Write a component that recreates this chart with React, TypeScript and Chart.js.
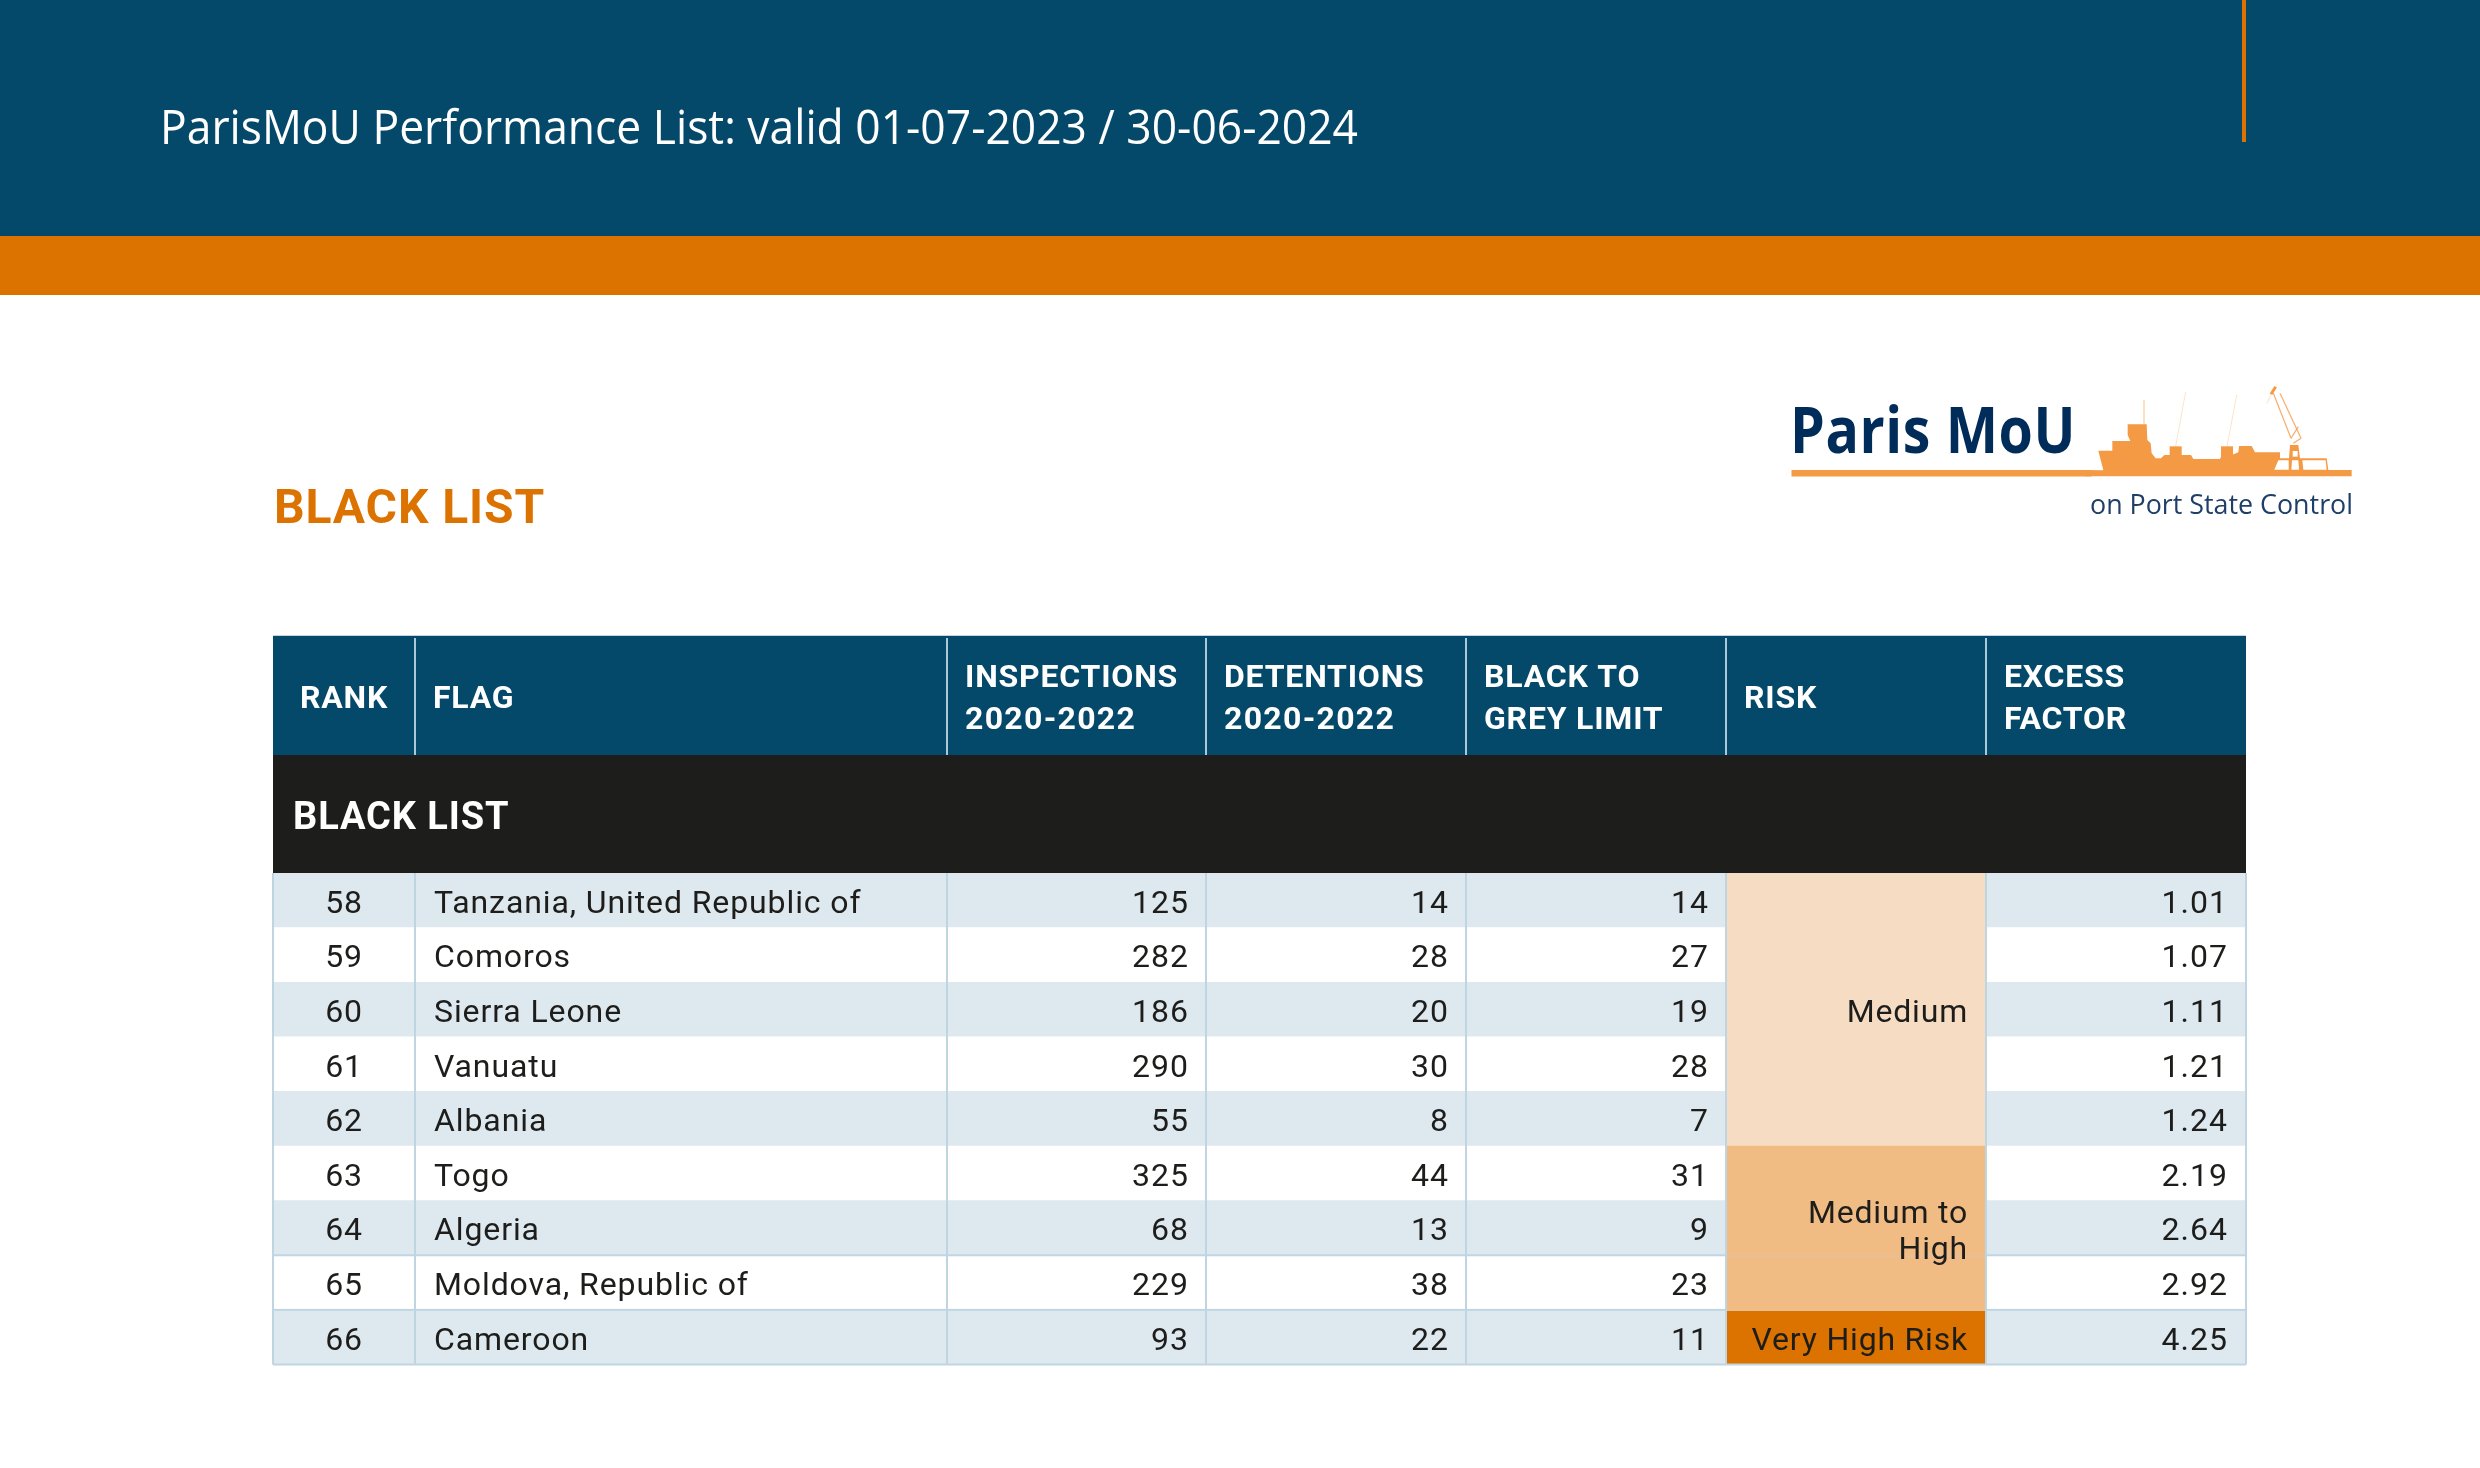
import React, { useEffect, useRef } from 'react';
import { Chart, registerables } from 'chart.js';

Chart.register(...registerables);

const ranks = ['58', '59', '60', '61', '62', '63', '64', '65', '66'];
const flags = [
  'Tanzania, United Republic of', 'Comoros', 'Sierra Leone', 'Vanuatu', 'Albania',
  'Togo', 'Algeria', 'Moldova, Republic of', 'Cameroon',
];
const inspections = ['125', '282', '186', '290', '55', '325', '68', '229', '93'];
const detentions = ['14', '28', '20', '30', '8', '44', '13', '38', '22'];
const blackToGrey = ['14', '27', '19', '28', '7', '31', '9', '23', '11'];
const excessFactor = ['1.01', '1.07', '1.11', '1.21', '1.24', '2.19', '2.64', '2.92', '4.25'];
const riskLevel = [0, 0, 0, 0, 0, 1, 1, 1, 2];
const riskLabels = [['Medium'], ['Medium to', 'High'], ['Very High Risk']];
const headers = [
  ['RANK'], ['FLAG'], ['INSPECTIONS', '2020-2022'], ['DETENTIONS', '2020-2022'],
  ['BLACK TO', 'GREY LIMIT'], ['RISK'], ['EXCESS', 'FACTOR'],
];

// column edges, in table units (x scale runs 0..tableWidth)
const colEdges = [0, 142, 674, 933, 1193, 1453, 1713, 1973];
const tableWidth = colEdges[colEdges.length - 1];

const BLUE = '#05496A';
const ORANGE = '#DC7300';
const INK = '#1D1D1B';
const STRIPE = '#DEE8EF';
const RULE = '#BFD6E2';
const NAVY = '#002C5A';
const LOGO = '#F49A45';
const riskColors = ['#F6DCC2', '#F1BB84', ORANGE];

const TABLE_LEFT = 273;
const TABLE_TOP = 635;
const HEADER_BOTTOM = 755;
const ROWS_TOP = 873;
const ROWS_BOTTOM = 1364.5;

const DIN = 'Roboto, sans-serif';
const MYRIAD = '"Open Sans", sans-serif';

function put(ctx: CanvasRenderingContext2D, str: string, x: number, y: number, font: string, color: string, align: CanvasTextAlign = 'left', spacing = '0px', maxW?: number) {
  ctx.font = font;
  ctx.fillStyle = color;
  ctx.textAlign = align;
  ctx.textBaseline = 'alphabetic';
  (ctx as any).letterSpacing = spacing;
  if (maxW) ctx.fillText(str, x, y, maxW);
  else ctx.fillText(str, x, y);
  (ctx as any).letterSpacing = '0px';
}

const sx = (v: number) => 2085 + v / 3;
const sy = (v: number) => 375 + v / 3;
const hull = [[55, 286], [40, 227], [82, 227], [82, 198], [136, 198], [128, 180], [128, 148], [185, 148], [187, 195], [197, 205], [200, 235], [212, 250], [228, 250], [238, 240], [318, 240], [325, 252], [405, 252], [410, 240], [440, 240], [460, 232], [462, 213], [500, 213], [510, 232], [585, 232], [585, 250], [612, 250], [615, 210], [640, 210], [645, 250], [725, 250], [730, 285], [800, 285], [800, 304], [0, 304], [0, 285]];
const holes = [
  [[580, 256], [611, 256], [611, 284], [568, 284]],
  [[621, 256], [640, 256], [642, 284], [619, 284]],
  [[652, 256], [722, 256], [725, 284], [655, 284]],
  [[623, 228], [638, 228], [638, 245], [623, 245]],
];
const craneLines = [
  [[177, 75], [177, 150], 1, 0.6], [[302, 50], [270, 225], 0.7, 0.4], [[455, 60], [424, 225], 0.7, 0.4],
  [[565, 55], [618, 190], 1.2, 0.8], [[585, 55], [648, 190], 1.2, 0.8], [[618, 190], [640, 155], 1.2, 0.8], [[648, 190], [625, 205], 1.2, 0.8],
  [[572, 35], [558, 58], 3, 1], [[558, 58], [546, 85], 0.6, 0.5],
] as any[];

function drawLogo(ctx: CanvasRenderingContext2D) {
  ctx.save();
  ctx.fillStyle = LOGO;
  ctx.fillRect(1791.5, 470, 300, 6.5);
  ctx.beginPath();
  hull.forEach(([a, b], i) => (i ? ctx.lineTo(sx(a), sy(b)) : ctx.moveTo(sx(a), sy(b))));
  ctx.closePath();
  ctx.fill();
  ctx.fillStyle = '#fff';
  holes.forEach((h) => {
    ctx.beginPath();
    h.forEach(([a, b], i) => (i ? ctx.lineTo(sx(a), sy(b)) : ctx.moveTo(sx(a), sy(b))));
    ctx.closePath();
    ctx.fill();
  });
  ctx.strokeStyle = LOGO;
  craneLines.forEach(([p, q, w, alpha]) => {
    ctx.lineWidth = w;
    ctx.globalAlpha = alpha;
    ctx.beginPath();
    ctx.moveTo(sx(p[0]), sy(p[1]));
    ctx.lineTo(sx(q[0]), sy(q[1]));
    ctx.stroke();
  });
  ctx.globalAlpha = 1;
  // spots at the derrick feet
  ctx.fillStyle = LOGO;
  ctx.fillRect(sx(254), sy(214), 12, 26 / 3 + 2);
  ctx.fillRect(sx(408), sy(214), 12, 26 / 3 + 2);
  ctx.restore();
  put(ctx, 'Paris MoU', 1790, 453, `bold 64px ${MYRIAD}`, NAVY, 'left', '0.6px', 286);
  put(ctx, 'on Port State Control', 2353, 514, `28px ${MYRIAD}`, '#1F3F68', 'right', '0px', 263);
}

const pagePlugin = {
  id: 'page',
  beforeDatasetsDraw(chart: any) {
    const { ctx, width, chartArea } = chart;
    const x = chart.scales.x;
    ctx.save();
    ctx.fillStyle = BLUE;
    ctx.fillRect(0, 0, width, 236);
    ctx.fillStyle = ORANGE;
    ctx.fillRect(0, 236, width, 59);
    ctx.fillRect(2242, 0, 4, 142);
    put(ctx, 'ParisMoU Performance List: valid 01-07-2023 / 30-06-2024', 160, 144, `47px ${MYRIAD}`, '#fff', 'left', '0px', 1198);
    put(ctx, 'BLACK LIST', TABLE_LEFT + 1, 523, `bold 48px ${DIN}`, ORANGE, 'left', '0.9px');
    drawLogo(ctx);

    // header band and the black section band above the rows
    ctx.fillStyle = RULE;
    ctx.fillRect(chartArea.left, TABLE_TOP, chartArea.width, 1);
    ctx.fillStyle = BLUE;
    ctx.fillRect(chartArea.left, TABLE_TOP + 1, chartArea.width, HEADER_BOTTOM - TABLE_TOP - 1);
    ctx.fillStyle = INK;
    ctx.fillRect(chartArea.left, HEADER_BOTTOM, chartArea.width, ROWS_TOP - HEADER_BOTTOM);
    ctx.fillStyle = '#A9C8D8';
    colEdges.slice(1, -1).forEach((e) => ctx.fillRect(Math.round(x.getPixelForValue(e)) - 1, TABLE_TOP + 3, 2, HEADER_BOTTOM - TABLE_TOP - 3));

    headers.forEach((lines, c) => {
      const font = `bold 32px ${DIN}`;
      if (c === 0) {
        put(ctx, lines[0], (x.getPixelForValue(colEdges[0]) + x.getPixelForValue(colEdges[1])) / 2, 708, font, '#fff', 'center', '0.8px');
        return;
      }
      const left = x.getPixelForValue(colEdges[c]) + 18;
      if (lines.length === 1) put(ctx, lines[0], left, 708, font, '#fff', 'left', '0.8px');
      else {
        put(ctx, lines[0], left, 687, font, '#fff', 'left', '0.8px');
        put(ctx, lines[1], left, 729, font, '#fff', 'left', /\d/.test(lines[1]) ? '1.3px' : '0.8px');
      }
    });
    put(ctx, 'BLACK LIST', TABLE_LEFT + 20, 829, `bold 38px ${DIN}`, '#fff', 'left', '0.9px');
    ctx.restore();
  },
  afterDatasetsDraw(chart: any) {
    const { ctx, chartArea } = chart;
    const x = chart.scales.x;
    const y = chart.scales.y;
    const rowH = y.getPixelForValue(1) - y.getPixelForValue(0);
    const font = `32px ${DIN}`;
    ctx.save();
    // horizontal rules only under the last three rows, and not through the merged risk cell
    ctx.fillStyle = RULE;
    [6, 7, 8].forEach((r) => ctx.fillRect(chartArea.left, y.getPixelForValue(r) + rowH / 2 - 1, chartArea.width, 2));
    ctx.fillStyle = riskColors[1];
    [6, 7].forEach((r) => ctx.fillRect(x.getPixelForValue(colEdges[5]) + 1, y.getPixelForValue(r) + rowH / 2 - 1, x.getPixelForValue(colEdges[6]) - x.getPixelForValue(colEdges[5]) - 2, 2));

    const cols = [inspections, detentions, blackToGrey];
    ranks.forEach((rank, r) => {
      const base = y.getPixelForValue(r) + 12.5;
      put(ctx, rank, (x.getPixelForValue(colEdges[0]) + x.getPixelForValue(colEdges[1])) / 2, base, font, INK, 'center', '0.8px');
      put(ctx, flags[r], x.getPixelForValue(colEdges[1]) + 19, base, font, INK, 'left', '0.9px');
      cols.forEach((vals, c) => put(ctx, vals[r], x.getPixelForValue(colEdges[c + 3]) - 17, base, font, INK, 'right', '1px'));
      put(ctx, excessFactor[r], x.getPixelForValue(colEdges[7]) - 18, base, font, INK, 'right', '1px');
    });

    // merged risk cells: label sits at the middle of the rows of its level
    riskLabels.forEach((lines, level) => {
      const rows = riskLevel.map((l, i) => (l === level ? i : -1)).filter((i) => i >= 0);
      const mid = (y.getPixelForValue(rows[0]) + y.getPixelForValue(rows[rows.length - 1])) / 2;
      const right = x.getPixelForValue(colEdges[6]) - 18;
      lines.forEach((t, i) => {
        const offset = lines.length === 1 ? 12.5 : i === 0 ? -5 : 31;
        put(ctx, t, right, mid + offset, font, INK, 'right', '0.8px');
      });
    });
    ctx.restore();
  },
};

export default function App() {
  const canvasRef = useRef<HTMLCanvasElement>(null);

  useEffect(() => {
    document.body.style.margin = '0';
    if (!canvasRef.current) return;
    const chart = new Chart(canvasRef.current, {
      type: 'bar',
      plugins: [pagePlugin],
      data: {
        labels: ranks,
        datasets: [
          {
            label: 'Risk',
            data: ranks.map(() => [colEdges[5], colEdges[6]]),
            backgroundColor: riskLevel.map((l) => riskColors[l]),
            order: 1,
          },
          {
            label: 'Rows',
            data: ranks.map(() => [0, tableWidth]),
            backgroundColor: ranks.map((_, i) => (i % 2 === 0 ? STRIPE : '#FFFFFF')),
            order: 2,
          },
        ] as any,
      },
      options: {
        indexAxis: 'y',
        responsive: false,
        animation: false,
        devicePixelRatio: 1,
        layout: { padding: { left: TABLE_LEFT, top: ROWS_TOP, right: 2480 - TABLE_LEFT - tableWidth, bottom: 1468 - ROWS_BOTTOM } },
        datasets: { bar: { grouped: false, barPercentage: 1, categoryPercentage: 1, borderWidth: 0 } },
        plugins: { legend: { display: false }, tooltip: { enabled: false } },
        scales: {
          x: {
            type: 'linear',
            min: 0,
            max: tableWidth,
            position: 'top',
            afterBuildTicks: (axis: any) => {
              axis.ticks = colEdges.map((value) => ({ value }));
            },
            grid: { color: RULE, lineWidth: 2, drawTicks: false, z: 1 },
            border: { display: false },
            ticks: { display: false },
          },
          y: { type: 'category', display: false },
        },
      } as any,
    });
    return () => chart.destroy();
  }, []);

  return <canvas ref={canvasRef} width={2480} height={1468} style={{ display: 'block', width: 2480, height: 1468 }} />;
}
